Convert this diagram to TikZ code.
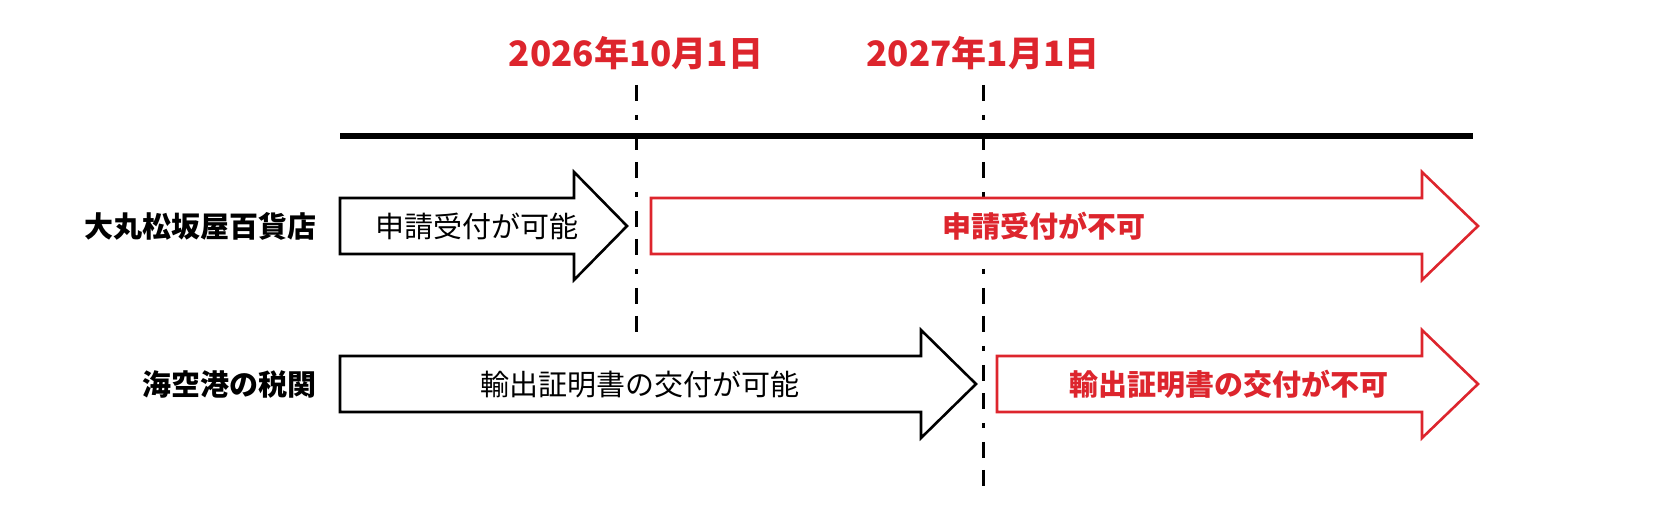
\documentclass[tikz,border=0pt]{standalone}
\usepackage{fontspec}
\setmainfont{Noto Sans CJK JP}
\usepackage{tikz}
\definecolor{ngred}{RGB}{221,37,45}
% big outlined arrow: style, x start, x head base, x tip, y middle
\newcommand{\bigarrow}[5]{%
  \draw[#1] (#2,#5-28) -- (#3,#5-28) -- (#3,#5-54) -- (#4,#5)
    -- (#3,#5+54) -- (#3,#5+28) -- (#2,#5+28) -- cycle;}
\tikzset{
  okarr/.style={draw=black, fill=white, line width=1.3pt, line join=miter},
  ngarr/.style={draw=ngred, fill=white, line width=1.3pt, line join=miter},
  oktxt/.style={font=\fontsize{14.5}{17}\selectfont, text=black},
  ngtxt/.style={font=\fontsize{14.5}{17}\selectfont\bfseries, text=ngred},
  rowlab/.style={font=\fontsize{14.5}{17}\selectfont\bfseries, anchor=east},
  datelab/.style={font=\fontsize{17.5}{21}\selectfont\bfseries, text=ngred},
  cutline/.style={line width=1.5pt, dash pattern=on 8pt off 7pt on 2.5pt off 7pt on 8pt off 6pt},
  axisline/.style={line width=3.2pt},
}

\begin{document}
\begin{tikzpicture}[x=0.5pt,y=-0.5pt]
\useasboundingbox (0,0) rectangle (1667,529);
% dates and cut-over lines
\node[datelab] (date1) at (636,53) {2026年10月1日};
\node[datelab] (date2) at (983,53) {2027年1月1日};
\coordinate (cut1top) at (636,85);  \coordinate (cut1bot) at (636,338);
\coordinate (cut2top) at (983,85);  \coordinate (cut2bot) at (983,487);
\draw[cutline] (cut1top) -- (cut1bot);
\draw[cutline] (cut2top) -- (cut2bot);
\coordinate (axisL) at (340,136); \coordinate (axisR) at (1473,136);
\draw[axisline] (axisL) -- (axisR);
% department store
\node[rowlab] (store) at (324,226) {大丸松坂屋百貨店};
\bigarrow{okarr}{340}{574}{627}{226}
\bigarrow{ngarr}{651}{1422}{1478}{226}
\node[oktxt] (storeok) at (477,226) {申請受付が可能};
\node[ngtxt] (storeng) at (1044,226) {申請受付が不可};
% customs
\node[rowlab] (customs) at (324,384) {海空港の税関};
\bigarrow{okarr}{340}{921}{976}{384}
\bigarrow{ngarr}{997}{1422}{1478}{384}
\node[oktxt] (customsok) at (640,384) {輸出証明書の交付が可能};
\node[ngtxt] (customsng) at (1229,384) {輸出証明書の交付が不可};
\end{tikzpicture}
\end{document}
